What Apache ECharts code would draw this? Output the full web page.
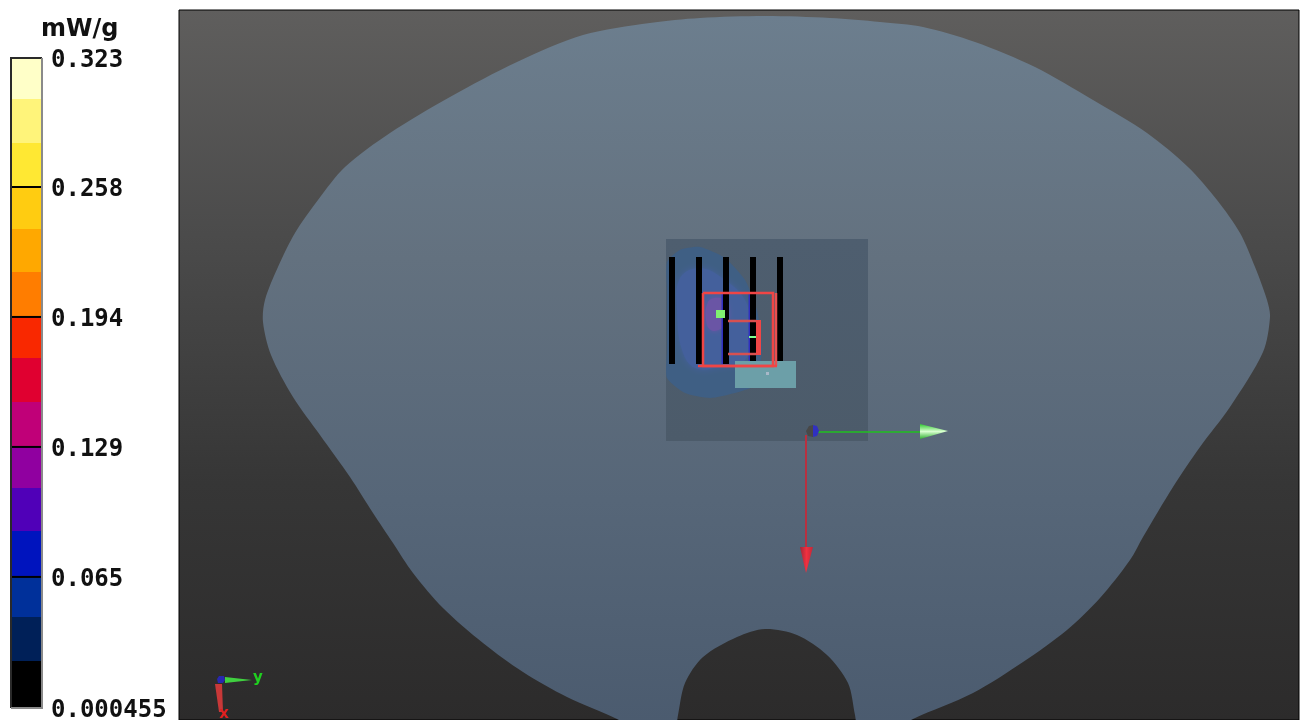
<!DOCTYPE html>
<html><head><meta charset="utf-8">
<style>html,body{margin:0;padding:0;background:#fff}#c{width:1300px;height:720px}</style>
<script src="https://cdn.jsdelivr.net/npm/echarts@6/dist/echarts.min.js"></script>
</head><body><div id="c"></div>
<script>
const unitLabel = 'mW/g';
const tickValues = [0.000455, 0.0655, 0.13, 0.1945, 0.259, 0.323];
const tickLabels = ['0.000455', '0.065', '0.129', '0.194', '0.258', '0.323'];
const bandEdges = [0.000455, 0.0238, 0.0456, 0.0655, 0.0883, 0.1096, 0.13, 0.1523, 0.1741, 0.1945, 0.2168, 0.2382, 0.259, 0.2808, 0.3027, 0.323];
const bandColors = ['#000000','#002058','#00309a','#0014be','#5000b8','#9000a0','#c00078','#e00030','#f92800','#ff7d00','#ffa800','#ffcc11','#ffe833','#fff47a','#ffffc8'];
const frameDark = [[0,0.000455],[0,0.323],[1,0.323]];
const frameLight = [[1,0.323],[1,0.000455],[0,0.000455]];

const panel = [[179,10],[1299,10],[1299,720],[179,720]];
const phantom = [[765,16],[700,18],[650,23],[583,35],[517,62],[450,97],[390,133],[345,167],[318,200],[295,233],[278,267],[265,300],[263,322],[271,355],[293,397],[320,435],[350,477],[373,513],[393,543],[413,573],[443,608],[483,643],[523,672],[567,697],[617,719],[660,742],[674,735],[678,715],[685,683],[703,657],[737,637],[765,629],[797,635],[827,655],[848,683],[855,715],[859,735],[872,742],[913,719],[973,693],[1023,662],[1067,630],[1100,598],[1130,560],[1143,537],[1173,487],[1200,447],[1230,407],[1263,352],[1270,317],[1267,300],[1255,267],[1240,233],[1217,200],[1188,167],[1147,133],[1093,100],[1035,67],[975,42],[923,27],[880,22],[830,18]];
const scanSquare = [[666,239],[868,239],[868,441],[666,441]];
const blobOuter = [[667,262],[680,250],[700,247],[725,258],[745,280],[757,310],[762,350],[755,385],[735,393],[710,398],[685,393],[667,378],[667,350],[667,320],[667,290]];
const blobInner = [[680,278],[700,268],[725,280],[745,300],[752,330],[745,360],[720,367],[695,368],[682,350],[677,310]];
const blobPeak = [[708,302],[720,298],[727,305],[727,322],[715,331],[707,325]];
const barA = [[669,257],[675,257],[675,364],[669,364]];
const barB = [[696,257],[702,257],[702,364],[696,364]];
const barC = [[723,257],[729,257],[729,364],[723,364]];
const barD = [[750,257],[756,257],[756,364],[750,364]];
const barE = [[777,257],[783,257],[783,364],[777,364]];
const fringeC = [[721.5,293],[723,293],[723,364],[721.5,364]];
const fringeD = [[748.5,293],[750,293],[750,364],[748.5,364]];
const tealBox = [[735,361],[796,361],[796,388],[735,388]];
const tealDot = [[766,372],[769,372],[769,375],[766,375]];
const redOuter = [[703,293],[773,293],[773,366],[703,366],[703,293]];
const redRight = [[776,293],[776,366]];
const redBottom = [[698,366],[777,366]];
const redInnerTop = [[728,321],[756,321]];
const redInnerBottom = [[728,354],[756,354]];
const redInnerBar = [[756,320],[761,320],[761,355],[756,355]];
const greenSquare = [[716,310],[725,310],[725,318],[716,318]];
const greenDash = [[749,336],[756,336],[756,338],[749,338]];
const axisY = [[815,432],[921,432]];
const coneY = [[920,424],[948,431],[920,439]];
const axisX = [[806,435],[806,548]];
const coneX = [[800,547],[813,547],[806,573]];
const hubRight = [[813,425],[817,426],[819,431],[817,436],[813,437]];
const hubLeft = [[813,425],[809,426],[806,431],[808,436],[813,437]];
const miniHub = [[219,676],[224,676],[225,680],[223,683],[218,683],[217,679]];
const miniY = [[225,677],[252,680],[225,683]];
const miniX = [[215,684],[222,684],[223,712],[219,712]];
const miniYLabel = [[258,678,'y']];
const miniXLabel = [[224,714,'x']];

const grad = (stops) => new echarts.graphic.LinearGradient(0,0,0,1,stops.map((c,i)=>({offset:i/(stops.length-1),color:c})));
const gradH = (stops) => new echarts.graphic.LinearGradient(0,0,1,0,stops.map((c,i)=>({offset:i/(stops.length-1),color:c})));

function area(data, style, smooth){
  return {type:'custom',xAxisIndex:0,yAxisIndex:0,silent:true,clip:false,data,
    encode:{x:0,y:1},
    renderItem:(p,api)=>{
      if(p.dataIndex!==0) return null;
      return {type:'polygon',shape:{points:data.map(d=>api.coord(d)),smooth:smooth||0},style};
    }};
}
function stroke(data, color, width, ax){
  ax = ax||0;
  return {type:'custom',xAxisIndex:ax,yAxisIndex:ax,silent:true,clip:false,data,z:ax?6:2,
    encode:{x:0,y:1},
    renderItem:(p,api)=>{
      if(p.dataIndex!==0) return null;
      return {type:'polyline',shape:{points:data.map(d=>api.coord(d))},style:{stroke:color,lineWidth:width,fill:null}};
    }};
}
function label(data, color){
  return {type:'custom',xAxisIndex:0,yAxisIndex:0,silent:true,clip:false,data,
    encode:{x:0,y:1},
    renderItem:(p,api)=>{
      const c=api.coord([api.value(0),api.value(1)]);
      return {type:'text',x:c[0],y:c[1],style:{text:data[p.dataIndex][2],fill:color,font:'bold 15px "DejaVu Sans"',align:'center',verticalAlign:'middle'}};
    }};
}
const bandData = bandColors.map((c,i)=>[bandEdges[i],bandEdges[i+1],c]);
const series = [
  area(panel,{fill:grad(['#5f5e5d','#4a4a4a','#363636','#2c2b2b']),stroke:'#000',lineWidth:1}),
  area(phantom,{fill:grad(['#6c7e8e','#63717f','#566678','#4a5a6e'])},0.3),
  area(scanSquare,{fill:grad(['#4e5e6f','#4c5b6a'])}),
  area(blobOuter,{fill:'#3f5f84'},0.2),
  area(blobInner,{fill:'#44609c',shadowBlur:6,shadowColor:'#44609c'},0.4),
  area(blobPeak,{fill:'#6a55a5',shadowBlur:5,shadowColor:'#6a55a5'},0.4),
  area(fringeC,{fill:'#3030c0'}),area(fringeD,{fill:'#3030c0'}),
  area(barA,{fill:'#000'}),area(barB,{fill:'#000'}),area(barC,{fill:'#000'}),area(barD,{fill:'#000'}),area(barE,{fill:'#000'}),
  area(tealBox,{fill:'#6c9fa8'}),
  area(tealDot,{fill:'#a8b8c8'}),
  stroke(redOuter,'#f04545',2.5),
  stroke(redRight,'#e85050',2.5),
  stroke(redBottom,'#f04545',2.5),
  stroke(redInnerTop,'#d85050',2.5),
  stroke(redInnerBottom,'#d85050',2.5),
  area(redInnerBar,{fill:'#f04545'}),
  area(greenSquare,{fill:'#80f070'}),
  area(greenDash,{fill:'#80ff90'}),
  stroke(axisY,'#20c020',1.5),
  area(coneY,{fill:grad(['#30c830','#d8ffd0','#30b030'])}),
  stroke(axisX,'#b83040',2),
  area(coneX,{fill:gradH(['#a02838','#f03040','#c02838'])}),
  area(hubLeft,{fill:'#484848'}),
  area(hubRight,{fill:'#3030c0'}),
  area(miniX,{fill:'#c83838'}),
  area(miniY,{fill:'#40d040'}),
  area(miniHub,{fill:'#2828b0'}),
  label(miniYLabel,'#20d020'),
  label(miniXLabel,'#e02020'),
  {type:'custom',xAxisIndex:1,yAxisIndex:1,silent:true,clip:false,data:bandData,z:4,
    encode:{y:[0,1]},
    renderItem:(p,api)=>{
      const r=p.coordSys, lo=api.coord([0,api.value(0)]), hi=api.coord([0,api.value(1)]);
      return {type:'rect',shape:{x:r.x,y:hi[1],width:r.width,height:lo[1]-hi[1]},style:{fill:bandData[p.dataIndex][2]}};
    }},
  {type:'custom',xAxisIndex:1,yAxisIndex:1,silent:true,clip:false,data:tickValues.slice(1,5).map(v=>[v]),z:5,
    encode:{y:0},
    renderItem:(p,api)=>{
      const a=api.coord([0,api.value(0)]), b=api.coord([1,api.value(0)]);
      return {type:'line',shape:{x1:a[0],y1:a[1],x2:b[0],y2:b[1]},style:{stroke:'#000',lineWidth:2}};
    }},
  stroke(frameDark,'#2a2a2a',2,1),
  stroke(frameLight,'#8a8a8a',2,1)
];
const chart = echarts.init(document.getElementById('c'),null,{renderer:'canvas'});
chart.setOption({
  animation:false,
  backgroundColor:'#fff',
  title:{text:unitLabel,left:36,top:13,textStyle:{fontFamily:'DejaVu Sans',fontWeight:'bold',fontSize:24,color:'#111'}},
  grid:[
    {left:0,top:0,width:1300,height:720,show:false,outerBoundsMode:'none'},
    {left:11,top:58,width:31,height:650,show:false,outerBoundsMode:'none'}
  ],
  xAxis:[
    {type:'value',gridIndex:0,min:0,max:1300,show:false},
    {type:'value',gridIndex:1,min:0,max:1,show:false}
  ],
  yAxis:[
    {type:'value',gridIndex:0,min:0,max:720,inverse:true,show:false},
    {type:'value',gridIndex:1,min:tickValues[0],max:tickValues[5],position:'right',z:10,
     axisLine:{show:false},splitLine:{show:false},axisTick:{show:false},
     axisLabel:{show:true,margin:9,customValues:tickValues,hideOverlap:false,showMinLabel:true,showMaxLabel:true,
       rich:{t:{fontFamily:'DejaVu Sans Mono',fontWeight:'bold',fontSize:24,color:'#111',padding:[5,0,0,0]}},
       formatter:v=>{let b=0;tickValues.forEach((t,i)=>{if(Math.abs(t-v)<Math.abs(tickValues[b]-v))b=i;});return '{t|'+tickLabels[b]+'}';}}}
  ],
  series
});
</script></body></html>
